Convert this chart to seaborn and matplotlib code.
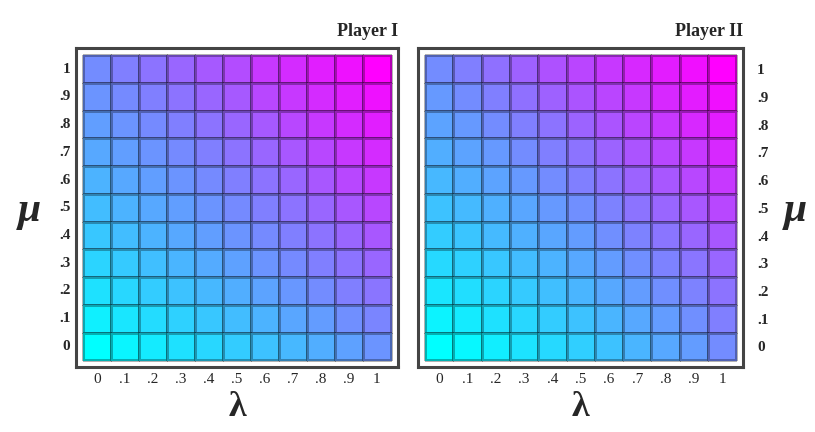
import numpy as np
import pandas as pd
import matplotlib
matplotlib.use("Agg")
import matplotlib.pyplot as plt
import seaborn as sns

# tick labels
lam_labels = ["0", ".1", ".2", ".3", ".4", ".5", ".6", ".7", ".8", ".9", "1"]
mu_labels = ["1", ".9", ".8", ".7", ".6", ".5", ".4", ".3", ".2", ".1", "0"]  # top to bottom

# values (rows: mu = 1 .. 0, columns: lambda = 0 .. 1)
player1 = [
    [0.45, 0.50, 0.55, 0.60, 0.65, 0.70, 0.78, 0.83, 0.88, 0.93, 1.00],
    [0.42, 0.46, 0.50, 0.55, 0.60, 0.65, 0.72, 0.78, 0.83, 0.88, 0.93],
    [0.38, 0.42, 0.46, 0.50, 0.55, 0.60, 0.65, 0.72, 0.78, 0.83, 0.88],
    [0.34, 0.38, 0.42, 0.46, 0.50, 0.55, 0.60, 0.66, 0.72, 0.78, 0.83],
    [0.30, 0.34, 0.38, 0.42, 0.46, 0.50, 0.55, 0.60, 0.66, 0.72, 0.78],
    [0.26, 0.30, 0.34, 0.38, 0.42, 0.46, 0.50, 0.55, 0.60, 0.66, 0.72],
    [0.22, 0.26, 0.30, 0.34, 0.38, 0.42, 0.46, 0.50, 0.55, 0.60, 0.66],
    [0.17, 0.21, 0.25, 0.29, 0.33, 0.37, 0.42, 0.46, 0.50, 0.55, 0.60],
    [0.12, 0.16, 0.20, 0.24, 0.28, 0.32, 0.36, 0.41, 0.45, 0.50, 0.54],
    [0.06, 0.10, 0.14, 0.18, 0.22, 0.26, 0.30, 0.35, 0.39, 0.44, 0.48],
    [0.00, 0.04, 0.08, 0.12, 0.16, 0.20, 0.24, 0.28, 0.32, 0.37, 0.42],
]

player2 = [
    [0.45, 0.50, 0.56, 0.62, 0.68, 0.73, 0.78, 0.84, 0.89, 0.94, 1.00],
    [0.40, 0.45, 0.50, 0.56, 0.62, 0.67, 0.73, 0.78, 0.84, 0.89, 0.94],
    [0.36, 0.40, 0.45, 0.50, 0.55, 0.61, 0.67, 0.73, 0.78, 0.84, 0.89],
    [0.32, 0.36, 0.40, 0.45, 0.50, 0.55, 0.61, 0.67, 0.72, 0.78, 0.84],
    [0.28, 0.32, 0.36, 0.40, 0.45, 0.50, 0.55, 0.61, 0.66, 0.72, 0.78],
    [0.24, 0.27, 0.31, 0.35, 0.40, 0.44, 0.49, 0.55, 0.60, 0.66, 0.72],
    [0.20, 0.23, 0.27, 0.31, 0.35, 0.39, 0.44, 0.49, 0.54, 0.60, 0.66],
    [0.15, 0.18, 0.22, 0.26, 0.30, 0.34, 0.39, 0.44, 0.49, 0.54, 0.60],
    [0.10, 0.13, 0.17, 0.21, 0.25, 0.29, 0.34, 0.39, 0.44, 0.49, 0.55],
    [0.05, 0.08, 0.12, 0.16, 0.20, 0.24, 0.29, 0.34, 0.39, 0.44, 0.50],
    [0.00, 0.03, 0.07, 0.11, 0.15, 0.19, 0.24, 0.29, 0.34, 0.39, 0.45],
]

titles = ["Player I", "Player II"]

sns.set_style("white")
plt.rcParams['font.family'] = ['Liberation Serif', 'DejaVu Serif']

fig = plt.figure(figsize=(8.15, 4.32), dpi=100)
ax1 = fig.add_axes([0.0933, 0.150, 0.395, 0.738])
ax2 = fig.add_axes([0.513, 0.150, 0.399, 0.738])

pad = 0.25
for i, (ax, vals) in enumerate(zip([ax1, ax2], [player1, player2])):
    df = pd.DataFrame(vals, index=mu_labels, columns=lam_labels)
    sns.heatmap(df, ax=ax, cmap="cool", vmin=0, vmax=1, cbar=False,
                linewidths=0.8, linecolor=(0, 0, 0, 0.3), square=False)
    ax.set_xlim(-pad, 11 + pad)
    ax.set_ylim(11 + pad, -pad)
    for sp in ax.spines.values():
        sp.set_visible(True)
        sp.set_color("#444444")
        sp.set_linewidth(2.2)
    ax.tick_params(length=0, labelsize=11, pad=4)
    ax.set_xticklabels(lam_labels, rotation=0)
    ax.set_yticklabels(mu_labels, rotation=0, fontweight="bold")
    ax.set_xlabel("λ", fontsize=26, labelpad=4, fontweight="bold")
    ax.set_title(titles[i], loc="right", fontsize=13, fontweight="bold", pad=9)

ax2.yaxis.tick_right()
ax2.yaxis.set_label_position("right")
ax2.tick_params(axis="y", labelright=True, labelleft=False, pad=10)

for ax, xpos in [(ax1, -0.145), (ax2, 1.16)]:
    ax.set_ylabel("μ", fontsize=30, rotation=0, fontweight="bold", fontstyle="italic")
    ax.yaxis.label.set_verticalalignment("center")
    ax.yaxis.label.set_horizontalalignment("center")
    ax.yaxis.set_label_coords(xpos, 0.49)

fig.savefig("out.png", dpi=100, facecolor="white")
